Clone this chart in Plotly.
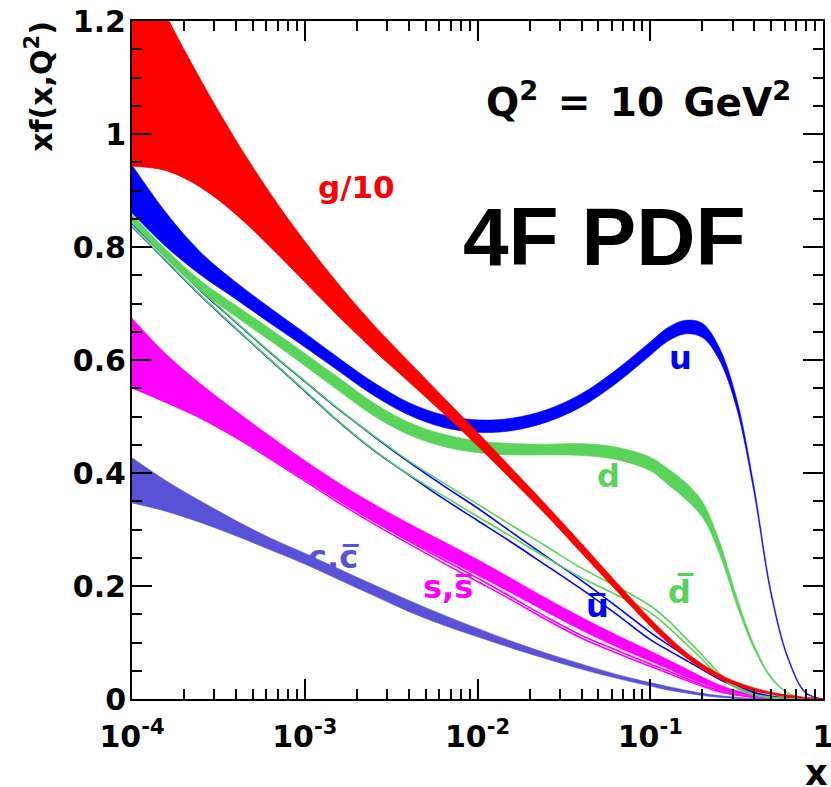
import plotly.graph_objects as go

# x grid (momentum fraction)
X = [1.00e-4, 1.58e-4, 2.51e-4, 3.98e-4, 6.31e-4, 1.00e-3, 1.58e-3, 2.51e-3, 3.98e-3, 6.31e-3,
     1.00e-2, 1.58e-2, 2.51e-2, 3.98e-2, 6.31e-2, 0.100, 0.126, 0.158, 0.200, 0.251,
     0.316, 0.398, 0.501, 0.631, 0.794, 1.000]

# gluon / 10 band
g_up = [1.34, 1.21, 1.095, 0.99, 0.895, 0.81, 0.733, 0.662, 0.598, 0.535, 0.472, 0.408, 0.343, 0.276,
        0.208, 0.142, 0.112, 0.085, 0.062, 0.044, 0.030, 0.020, 0.012, 0.007, 0.003, 0.001]
g_lo = [0.943, 0.935, 0.905, 0.858, 0.800, 0.738, 0.676, 0.617, 0.562, 0.506, 0.448, 0.387, 0.325,
        0.259, 0.193, 0.129, 0.100, 0.075, 0.053, 0.036, 0.024, 0.014, 0.008, 0.003, 0.001, 0.0]
# u band
u_up = [0.945, 0.860, 0.790, 0.738, 0.692, 0.648, 0.603, 0.560, 0.525, 0.503, 0.494, 0.497, 0.512,
        0.540, 0.582, 0.632, 0.657, 0.670, 0.665, 0.622, 0.532, 0.378, 0.190, 0.072, 0.012, 0.0]
u_lo = [0.860, 0.800, 0.750, 0.708, 0.665, 0.623, 0.580, 0.537, 0.503, 0.481, 0.472, 0.475, 0.490,
        0.517, 0.558, 0.608, 0.633, 0.646, 0.640, 0.600, 0.515, 0.367, 0.183, 0.068, 0.010, 0.0]
# d band
d_up = [0.858, 0.795, 0.740, 0.697, 0.655, 0.612, 0.568, 0.524, 0.490, 0.469, 0.457, 0.452, 0.451,
        0.452, 0.446, 0.428, 0.408, 0.385, 0.350, 0.280, 0.182, 0.097, 0.040, 0.011, 0.001, 0.0]
d_lo = [0.846, 0.780, 0.722, 0.677, 0.634, 0.590, 0.545, 0.501, 0.468, 0.447, 0.436, 0.432, 0.432,
        0.431, 0.424, 0.404, 0.380, 0.355, 0.322, 0.258, 0.167, 0.089, 0.036, 0.009, 0.0, 0.0]
# ubar band (outline)
ub_up = [0.842, 0.782, 0.722, 0.667, 0.613, 0.562, 0.512, 0.465, 0.420, 0.378, 0.338, 0.295, 0.252,
         0.210, 0.165, 0.118, 0.097, 0.077, 0.057, 0.039, 0.024, 0.012, 0.005, 0.0015, 0.0, 0.0]
ub_lo = [0.836, 0.775, 0.713, 0.656, 0.600, 0.545, 0.490, 0.440, 0.397, 0.355, 0.316, 0.277, 0.236,
         0.195, 0.151, 0.105, 0.087, 0.070, 0.052, 0.035, 0.021, 0.010, 0.004, 0.001, 0.0, 0.0]
# dbar band (outline)
db_up = [0.843, 0.783, 0.723, 0.668, 0.614, 0.563, 0.513, 0.466, 0.422, 0.383, 0.345, 0.307, 0.270,
         0.232, 0.200, 0.165, 0.140, 0.110, 0.078, 0.045, 0.022, 0.009, 0.003, 0.001, 0.0, 0.0]
db_lo = [0.837, 0.776, 0.714, 0.657, 0.601, 0.546, 0.491, 0.441, 0.398, 0.360, 0.323, 0.287, 0.250,
         0.215, 0.185, 0.153, 0.128, 0.100, 0.070, 0.040, 0.019, 0.007, 0.002, 0.0005, 0.0, 0.0]
# s band
s_up = [0.674, 0.610, 0.557, 0.510, 0.465, 0.422, 0.382, 0.345, 0.311, 0.279, 0.247, 0.213, 0.178,
        0.145, 0.114, 0.085, 0.070, 0.055, 0.039, 0.025, 0.015, 0.008, 0.003, 0.001, 0.0, 0.0]
s_lo = [0.550, 0.525, 0.497, 0.463, 0.426, 0.388, 0.350, 0.314, 0.281, 0.250, 0.219, 0.187, 0.154,
        0.122, 0.093, 0.067, 0.054, 0.040, 0.028, 0.017, 0.010, 0.005, 0.002, 0.0, 0.0, 0.0]
# sbar band (outline)
sb_up = [0.556, 0.530, 0.502, 0.468, 0.430, 0.391, 0.352, 0.315, 0.280, 0.247, 0.214, 0.180, 0.145,
         0.113, 0.087, 0.062, 0.050, 0.037, 0.025, 0.015, 0.008, 0.004, 0.001, 0.0, 0.0, 0.0]
sb_lo = [0.552, 0.525, 0.497, 0.463, 0.425, 0.386, 0.347, 0.310, 0.275, 0.241, 0.208, 0.175, 0.140,
         0.108, 0.082, 0.058, 0.046, 0.034, 0.023, 0.013, 0.007, 0.003, 0.001, 0.0, 0.0, 0.0]
# c band
c_up = [0.427, 0.386, 0.350, 0.316, 0.285, 0.258, 0.230, 0.202, 0.175, 0.149, 0.125, 0.102, 0.081,
        0.062, 0.044, 0.029, 0.022, 0.016, 0.010, 0.006, 0.003, 0.001, 0.0, 0.0, 0.0, 0.0]
c_lo = [0.347, 0.332, 0.312, 0.289, 0.264, 0.239, 0.211, 0.183, 0.155, 0.131, 0.110, 0.090, 0.071,
        0.053, 0.037, 0.023, 0.016, 0.011, 0.006, 0.003, 0.001, 0.0, 0.0, 0.0, 0.0, 0.0]

X_MAJOR = [1e-4, 1e-3, 1e-2, 1e-1, 1]
X_LABELS = ["10<sup>-4</sup>", "10<sup>-3</sup>", "10<sup>-2</sup>", "10<sup>-1</sup>", "1"]

RED = "#ff0000"
BLUE = "#0000ff"
GREEN = "#5ad35a"
MAGENTA = "#ff00ff"
PURPLE = "#5a52d6"

fig = go.Figure()

SPL = dict(shape="spline", smoothing=1.0)


def band(lo, up, color):
    fig.add_trace(go.Scatter(x=X, y=lo, mode="lines", hoverinfo="skip", showlegend=False,
                             line=dict(color=color, width=0.6, **SPL)))
    fig.add_trace(go.Scatter(x=X, y=up, mode="lines", fill="tonexty", fillcolor=color,
                             hoverinfo="skip", showlegend=False,
                             line=dict(color=color, width=0.6, **SPL)))


def outline(lo, up, color):
    for arr in (lo, up):
        fig.add_trace(go.Scatter(x=X, y=arr, mode="lines", hoverinfo="skip", showlegend=False,
                                 line=dict(color=color, width=1.6, **SPL)))


band(c_lo, c_up, PURPLE)
band(s_lo, s_up, MAGENTA)
outline(sb_lo, sb_up, MAGENTA)
outline(ub_lo, ub_up, BLUE)
outline(db_lo, db_up, GREEN)
band(d_lo, d_up, GREEN)
band(u_lo, u_up, BLUE)
band(g_lo, g_up, RED)

minor_x = [m * 10 ** e for e in (-4, -3, -2, -1) for m in range(2, 10)]
minor_y = [i * 0.05 for i in range(1, 24) if i % 4 != 0]

axis_common = dict(showline=True, linecolor="black", linewidth=2, mirror="ticks",
                   ticks="inside", ticklen=20, tickwidth=2, tickcolor="black",
                   showgrid=False, zeroline=False, automargin=False,
                   ticklabeloverflow="allow")

fig.update_xaxes(type="log", range=[-4, 0], tickvals=X_MAJOR, ticktext=X_LABELS,
                 tickfont=dict(family="DejaVu Sans", size=30, weight="bold", color="black"),
                 ticklabelstandoff=10,
                 minor=dict(tickvals=minor_x, ticks="inside", ticklen=10, tickwidth=2,
                            tickcolor="black", showgrid=False),
                 **axis_common)
fig.update_yaxes(range=[0, 1.2], tick0=0, dtick=0.2,
                 tickfont=dict(family="DejaVu Sans", size=30, weight="bold", color="black"),
                 ticklabelstandoff=-2,
                 minor=dict(tickvals=minor_y, ticks="inside", ticklen=10, tickwidth=2,
                            tickcolor="black", showgrid=False),
                 **axis_common)


def label(x, y, text, color, size, family="DejaVu Sans"):
    fig.add_annotation(x=x, y=y, xref="x", yref="y", text=text, showarrow=False,
                       font=dict(family=family, size=size, color=color, weight="bold"),
                       xanchor="center", yanchor="middle")


label(-2.70, 0.906, "g/10", RED, 31)
label(-1.27, 0.818, "4F PDF", "black", 82, family="Liberation Sans")
label(-1.07, 1.06, "Q<sup>2</sup>\u2002=\u200210\u2002GeV<sup>2</sup>", "black", 39)
label(-0.825, 0.604, "u", BLUE, 32)
label(-1.242, 0.395, "d", GREEN, 32)
label(-0.825, 0.19, "d\u0305", GREEN, 32)
label(-1.306, 0.165, "u\u0305", BLUE, 32)
label(-2.169, 0.198, "s,s\u0305", MAGENTA, 32)
label(-2.835, 0.252, "c,c\u0305", PURPLE, 32)

fig.add_annotation(xref="paper", yref="paper", x=-0.133, y=0.903, text="xf(x,Q<sup>2</sup>)",
                   textangle=-90, showarrow=False, xanchor="center", yanchor="middle",
                   font=dict(family="DejaVu Sans", size=30, color="black", weight="bold"))
fig.add_annotation(xref="paper", yref="paper", x=0.990, y=-0.109, text="x",
                   showarrow=False, xanchor="center", yanchor="middle",
                   font=dict(family="DejaVu Sans", size=35, color="black", weight="bold"))

fig.update_layout(width=831, height=787, margin=dict(l=132, r=8, t=21, b=88),
                  plot_bgcolor="white", paper_bgcolor="white", showlegend=False,
                  font=dict(family="DejaVu Sans", color="black"))

fig.write_html("out.html", config={"displayModeBar": False},
               post_script="document.body.style.margin='0px';document.body.style.overflow='hidden';")
